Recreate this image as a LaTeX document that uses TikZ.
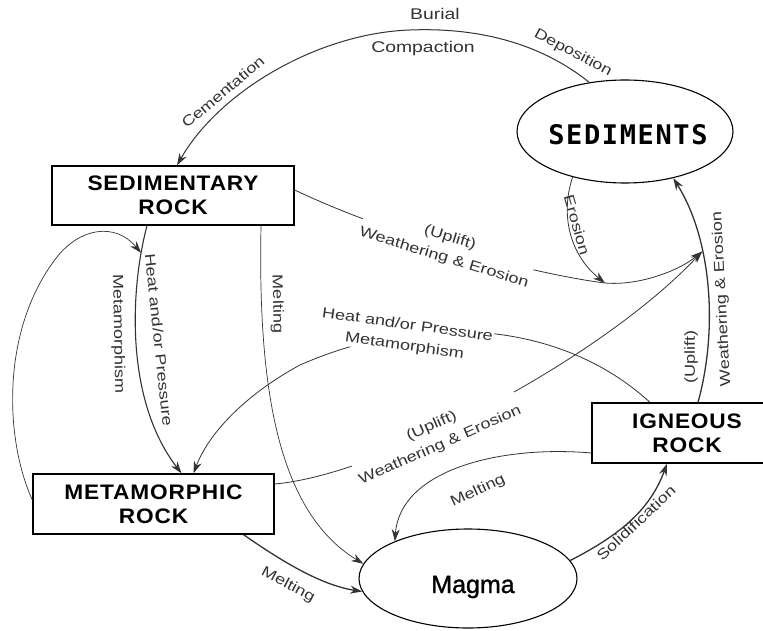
\documentclass[tikz,border=0pt]{standalone}
\usepackage{fontspec}
\setmainfont{Liberation Sans}
\newfontfamily\lblfont{Liberation Sans}[FakeStretch=1.25]
\newfontfamily\boxfont{Liberation Sans}[FakeStretch=1.08,LetterSpace=4]
\newfontfamily\sedfont{DejaVu Sans Mono}[LetterSpace=6]
\newfontfamily\magfont{Liberation Sans}[FakeBold=1.2]
\usetikzlibrary{arrows.meta,shapes.geometric}
\begin{document}
\begin{tikzpicture}[x=1pt,y=-1pt,
  rockbox/.style={draw=black,line width=1.3pt,rectangle,inner sep=0pt,align=center,
    font=\boxfont\bfseries\fontsize{21}{24}\selectfont},
  blob/.style={draw=black,line width=1.1pt,ellipse,inner sep=0pt},
  flow/.style={draw=black!80,line width=0.8pt,-{Stealth[length=12pt,width=8pt]}},
  heavy/.style={flow,line width=1.3pt},
  lbl/.style={font=\lblfont\fontsize{14.5}{21}\selectfont,text=black!80,inner sep=1pt,align=center},
  biglbl/.style={lbl,font=\lblfont\fontsize{15.5}{21}\selectfont},
  lblw/.style={lbl,fill=white}
]
\useasboundingbox (0,0) rectangle (763,631);

% nodes
\node[rockbox,minimum width=242pt,minimum height=59pt] (sedrock) at (173,195.5) {SEDIMENTARY\\ROCK};
\node[rockbox,minimum width=241pt,minimum height=60pt] (metarock) at (153.5,504) {METAMORPHIC\\ROCK};
\node[rockbox,minimum width=190pt,minimum height=60pt] (ignrock) at (687,433) {IGNEOUS\\ROCK};
\node[blob,minimum width=216pt,minimum height=103pt] (sediments) at (625,131.5) {};
\node[font=\sedfont\bfseries\fontsize{27}{30}\selectfont,anchor=base] (sedtext) at (628,145) {SEDIMENTS};
\node[blob,minimum width=218pt,minimum height=99pt] (magma) at (468,578.5) {};
\node[font=\magfont\fontsize{25}{28}\selectfont,anchor=base] (magmatext) at (473,593) {Magma};

\coordinate (erosionhit) at (605,283);

% connectors
\draw[flow,line width=1pt] (sediments.126) .. controls (530,35) and (460,28) .. (410,30)
   .. controls (320,33) and (220,90) .. ([xshift=4pt]sedrock.north);
\draw[heavy] ([xshift=11pt]ignrock.north) .. controls (718,330) and (712,240) .. (sediments.316)
   coordinate[pos=0.65] (merge);
\draw[flow] (sediments.221) .. controls (560,215) and (570,255) .. (erosionhit);
\draw[flow] ([yshift=5.5pt]sedrock.east) .. controls (400,240) and (540,275) .. (erosionhit)
   .. controls (640,286) and (680,270) .. (merge);
\draw[flow] ([yshift=20pt]metarock.east) .. controls (380,475) and (600,360) .. (merge);
\draw[flow] ([xshift=-37pt]ignrock.north) .. controls (560,320) and (420,312) .. (300,365)
   .. controls (250,392) and (210,430) .. ([xshift=40pt]metarock.north);
\draw[flow,line width=1.1pt] ([xshift=-26pt]sedrock.south) .. controls (130,290) and (125,400) ..
   ([xshift=28pt]metarock.north) coordinate[pos=0.13] (loophit);
\draw[flow,line width=0.7pt] ([yshift=4pt]metarock.west) .. controls (5,440) and (0,330) .. (57,257)
   .. controls (80,228) and (115,222) .. (loophit);
\draw[flow,line width=0.7pt] ([xshift=88pt]sedrock.south) .. controls (258,380) and (275,510) .. (magma.172);
\draw[heavy] ([xshift=90pt]metarock.south) .. controls (280,560) and (320,585) .. (magma.187);
\draw[flow] ([yshift=-20pt]ignrock.west) .. controls (500,445) and (400,470) .. (magma.153);
\draw[heavy] (magma.10) .. controls (620,535) and (650,510) .. ([xshift=-20pt]ignrock.south);

% labels
\node[biglbl] (lburial) at (435,14) {Burial};
\node[biglbl] (lcompaction) at (423,48) {Compaction};
\node[lbl,rotate=-28] (ldeposition) at (573,53) {Deposition};
\node[lbl,rotate=40] (lcementation) at (223,92) {Cementation};
\node[lbl,rotate=-74] (lerosion) at (577,225) {Erosion};
\node[lblw,rotate=-17] (lsedwe) at (447,248) {(Uplift)\\Weathering \& Erosion};
\node[lblw,rotate=24] (lmetawe) at (436,436) {(Uplift)\\Weathering \& Erosion};
\node[lblw,rotate=-8] (lmetam) at (406,336) {Heat and/or Pressure\\Metamorphism};
\node[lbl,rotate=90] (lignup) at (691,357) {(Uplift)};
\node[lbl,rotate=93] (lignwe) at (722,299) {Weathering \& Erosion};
\node[lbl,rotate=-84] (lheat) at (159,340) {Heat and/or Pressure};
\node[lbl,rotate=-89] (lmetamorph) at (118,334) {Metamorphism};
\node[lbl,rotate=-89] (lmelt1) at (277,304) {Melting};
\node[lbl,rotate=-28] (lmelt2) at (288,585) {Melting};
\node[lbl,rotate=25] (lmelt3) at (478,491) {Melting};
\node[lbl,rotate=43] (lsolid) at (636,523) {Solidification};
\end{tikzpicture}
\end{document}
